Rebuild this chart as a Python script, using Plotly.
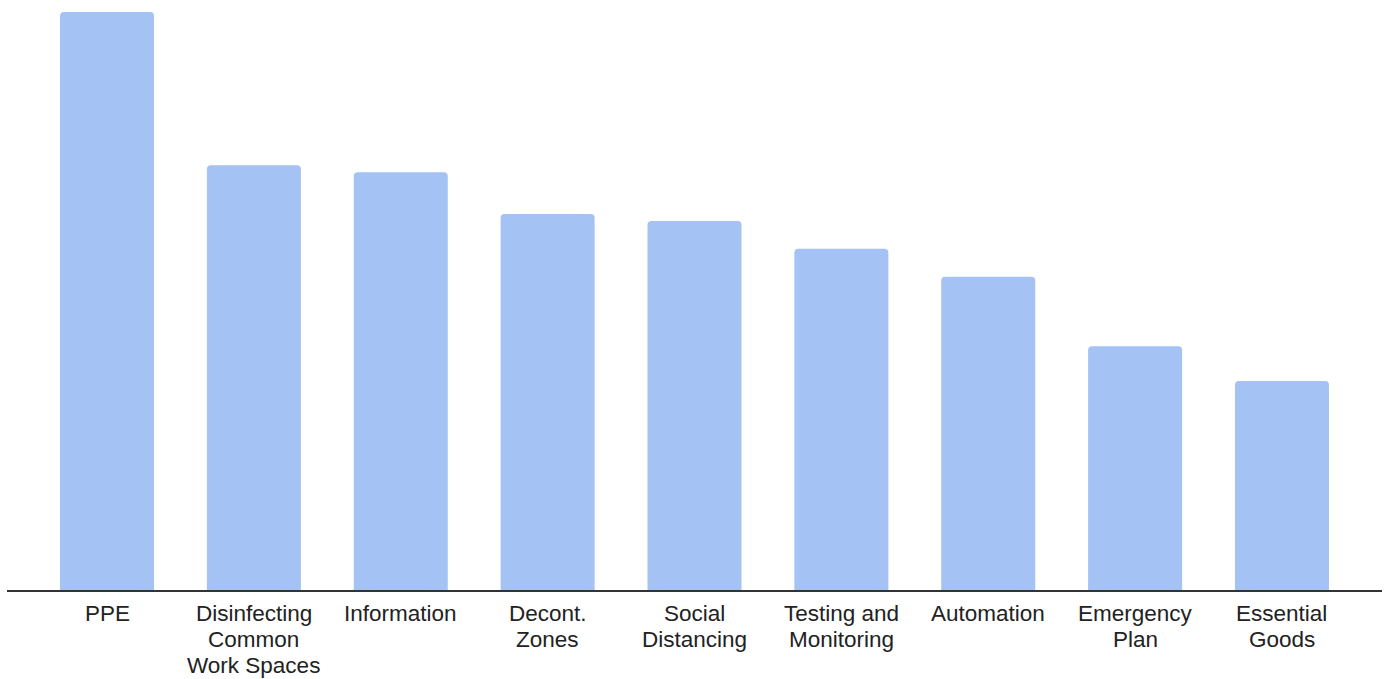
import plotly.graph_objects as go

categories = [
    "PPE",
    "Disinfecting\nCommon\nWork Spaces",
    "Information",
    "Decont.\nZones",
    "Social\nDistancing",
    "Testing and\nMonitoring",
    "Automation",
    "Emergency\nPlan",
    "Essential\nGoods",
]
values = [83, 61, 60, 54, 53, 49, 45, 35, 30]

LINE_GAP = 26      # pixel spacing between wrapped label lines
FIRST_LINE = 23    # pixel offset of first label line below the axis

fig = go.Figure(
    go.Bar(
        x=list(range(len(categories))),
        y=values,
        width=0.64,
        marker=dict(color="#a4c2f4", line=dict(width=0), cornerradius=4),
        hoverinfo="skip",
    )
)

# Category labels, one annotation per wrapped line for tight line spacing
for i, label in enumerate(categories):
    for j, line in enumerate(label.split("\n")):
        fig.add_annotation(
            x=i,
            xref="x",
            y=0,
            yref="paper",
            text=line,
            showarrow=False,
            xanchor="center",
            yanchor="middle",
            yshift=-(FIRST_LINE + j * LINE_GAP),
            font=dict(family="Liberation Sans, Arial, sans-serif", size=22.5, color="#222222"),
        )

fig.update_layout(
    width=1387,
    height=679,
    margin=dict(l=7, r=5, t=0, b=89, autoexpand=False),
    paper_bgcolor="white",
    plot_bgcolor="white",
    showlegend=False,
)
fig.update_xaxes(
    range=[-0.681, len(categories) - 1 + 0.681],
    showgrid=False,
    zeroline=False,
    showline=True,
    linecolor="#333333",
    linewidth=1.5,
    ticks="",
    showticklabels=False,
    automargin=False,
)
fig.update_yaxes(
    range=[0, 83 * 590 / 578],
    showgrid=False,
    zeroline=False,
    showticklabels=False,
    showline=False,
    automargin=False,
)

fig.write_html("out.html")
